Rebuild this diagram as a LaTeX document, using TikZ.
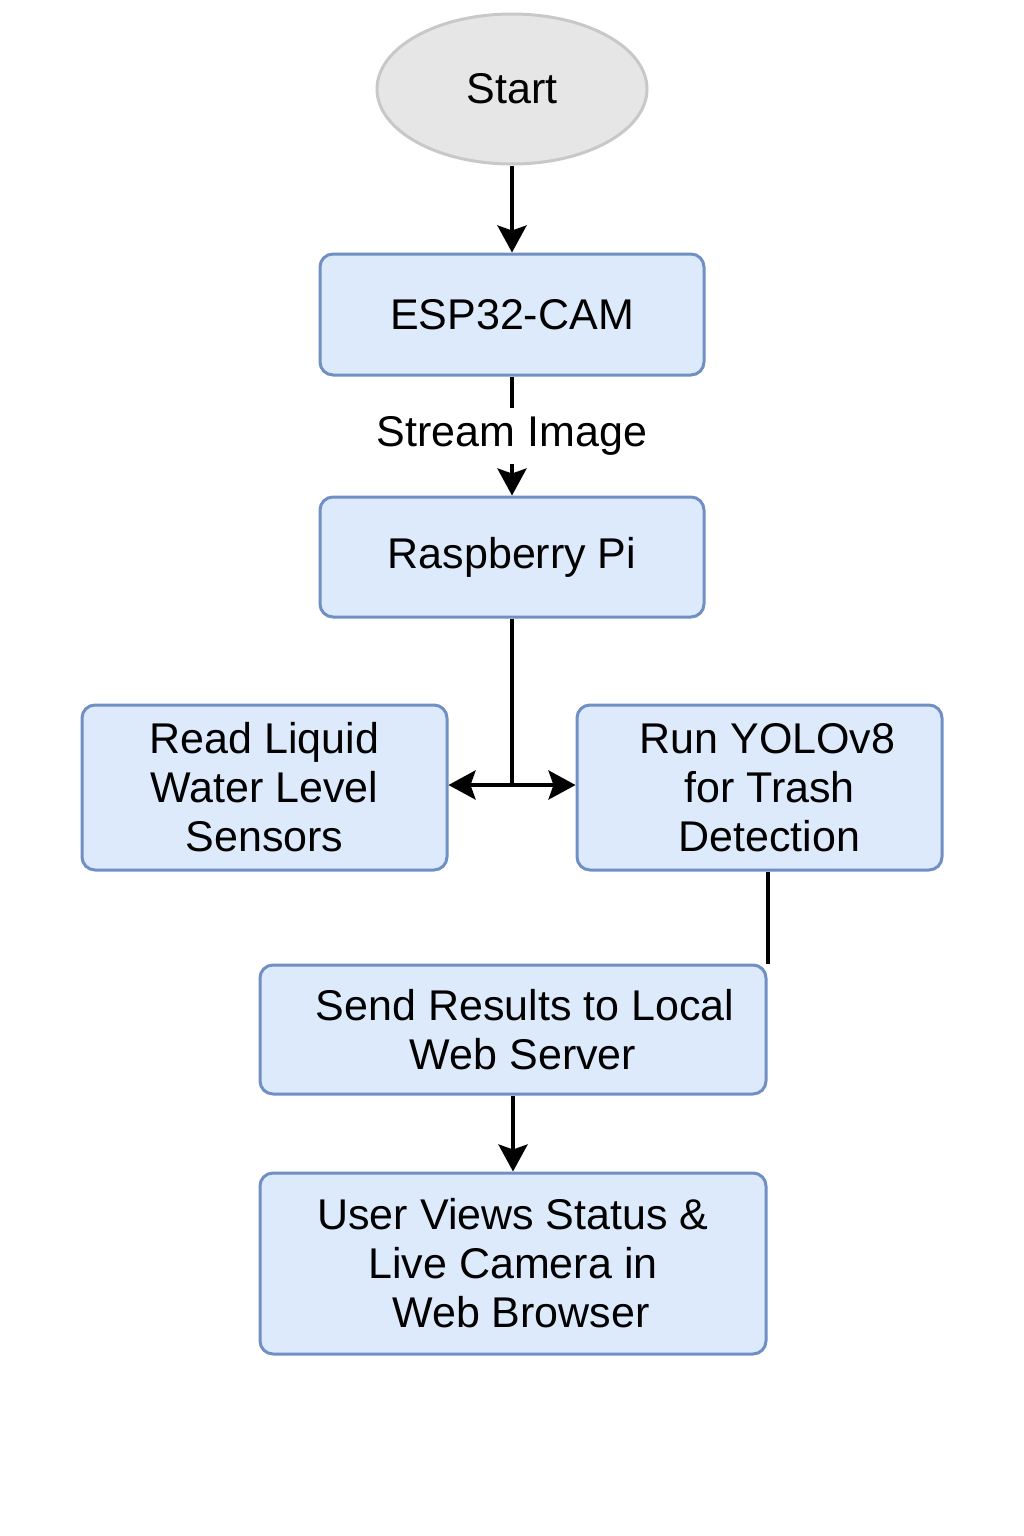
\documentclass[tikz,border=0pt]{standalone}
\usepackage{fontspec}
\setmainfont{Liberation Sans}
\usetikzlibrary{arrows.meta,shapes.geometric}
\definecolor{boxfill}{RGB}{220,234,252}
\definecolor{boxline}{RGB}{112,143,196}
\definecolor{startfill}{RGB}{230,230,230}
\definecolor{startline}{RGB}{200,200,200}
\begin{document}
\begin{tikzpicture}[x=1pt,y=-1pt,
  txt/.style={font=\fontsize{43}{49}\selectfont},
  proc/.style={txt,draw=boxline,fill=boxfill,line width=3pt,rounded corners=13pt,align=center,inner sep=0pt},
  terminal/.style={txt,ellipse,draw=startline,fill=startfill,line width=3pt,inner sep=0pt},
  conn/.style={line width=4pt,-{Stealth[length=27pt,width=29pt,inset=5pt]}},
  plainline/.style={line width=4pt}]
\useasboundingbox[fill=white] (0,0) rectangle (1024,1536);
\node[terminal,minimum width=270pt,minimum height=150pt] (start) at (512,89) {Start};
\node[proc,minimum width=384pt,minimum height=121pt] (esp) at (512,314.5) {ESP32-CAM};
\node[proc,minimum width=384pt,minimum height=120pt] (rasp) at (512,557) {Raspberry Pi};
\node[proc,minimum width=365pt,minimum height=165pt] (read) at (264.5,787.5) {Read Liquid\\Water Level\\Sensors};
\node[proc,minimum width=365pt,minimum height=165pt] (yolo) at (759.5,787.5) {\hspace*{16pt}Run YOLOv8\\\hspace*{20pt}for Trash\\\hspace*{20pt}Detection};
\node[proc,minimum width=506pt,minimum height=129pt] (send) at (513,1029.5) {\hspace*{24pt}Send Results to Local\\\hspace*{20pt}Web Server};
\node[proc,minimum width=506pt,minimum height=181pt] (user) at (513,1263.5) {User Views Status \&\\Live Camera in\\\hspace*{16pt}Web Browser};
\coordinate (br) at (512,785);
\draw[conn] (start.south) -- (esp.north);
\draw[conn] (esp.south) -- node[txt,fill=white,inner xsep=4pt,inner ysep=9pt] (lbl) {Stream Image} (rasp.north);
\draw[plainline] (rasp.south) -- (br);
\draw[conn] (br) -- (br -| read.east);
\draw[conn] (br) -- (br -| yolo.west);
\draw[plainline] (send.north east |- yolo.south) -- (send.north east);
\draw[conn] (send.south) -- (user.north);
\end{tikzpicture}
\end{document}
